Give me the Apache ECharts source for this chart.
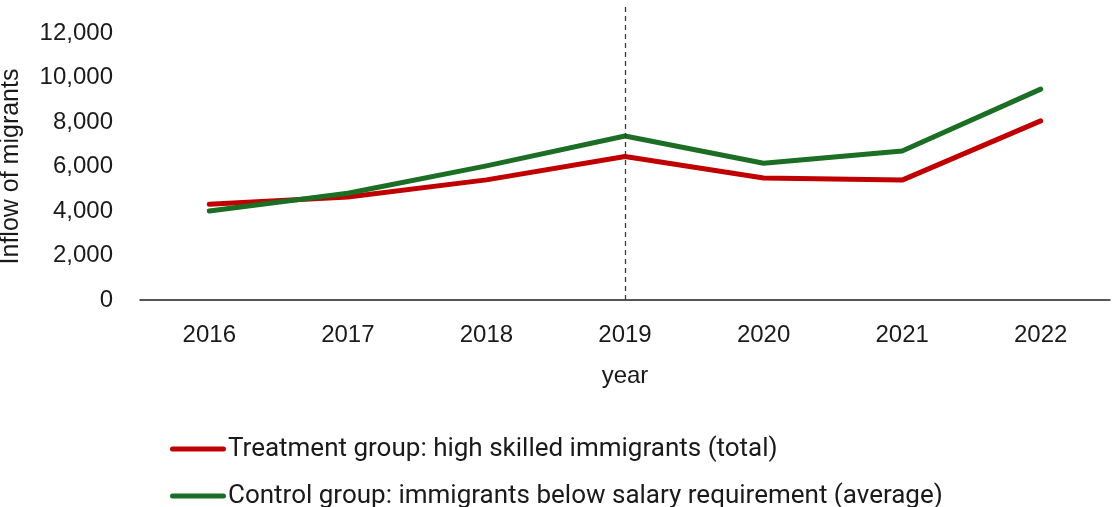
<!DOCTYPE html>
<html>
<head>
<meta charset="utf-8">
<script src="https://cdn.jsdelivr.net/npm/echarts@6/dist/echarts.min.js"></script>
<style>
  html, body { margin: 0; padding: 0; background: #fff; }
  #chart { width: 1113px; height: 507px; }
</style>
</head>
<body>
<div id="chart"></div>
<script>
// Annual inflow of migrants, treatment vs. control group
const years = ['2016', '2017', '2018', '2019', '2020', '2021', '2022'];
const treatment = [4300, 4630, 5400, 6450, 5480, 5390, 8050];
const control = [4000, 4800, 6030, 7370, 6150, 6700, 9480];
const yTicks = [0, 2000, 4000, 6000, 8000, 10000, 12000];
const reformYear = '2019';

const treatmentName = 'Treatment group: high skilled immigrants (total)';
const controlName = 'Control group: immigrants below salary requirement (average)';

const axisFont = 'Liberation Sans, Arial, sans-serif';
const legendFont = 'Roboto, sans-serif';

// thick line with rounded ends used as legend key
const keyIcon = 'path://M2.5,0 H53.5 A2.5,2.5 0 0 1 53.5,5 H2.5 A2.5,2.5 0 0 1 2.5,0 Z';

function legendFor(name, top) {
  return {
    left: 165,
    top: top,
    icon: keyIcon,
    itemWidth: 56,
    itemHeight: 5,
    itemGap: 0,
    textStyle: { fontFamily: legendFont, fontSize: 26, color: '#1a1a1a', padding: [0, 0, 0, -3] },
    data: [name]
  };
}

const chart = echarts.init(document.getElementById('chart'));
const topTick = yTicks[yTicks.length - 1];

chart.setOption({
  animation: false,
  grid: { left: 140, right: 3, top: 3, bottom: 207, outerBoundsMode: 'none', containLabel: false },
  legend: [legendFor(treatmentName, 431), legendFor(controlName, 478)],
  xAxis: {
    type: 'category',
    data: years,
    boundaryGap: true,
    name: 'year',
    nameLocation: 'middle',
    nameGap: 64,
    nameTextStyle: { fontFamily: axisFont, fontSize: 24, color: '#1a1a1a' },
    axisLine: { lineStyle: { color: '#1f1f1f', width: 1.5 } },
    axisTick: { show: false },
    axisLabel: { fontFamily: axisFont, fontSize: 24, color: '#1a1a1a', margin: 23 }
  },
  yAxis: {
    type: 'value',
    min: 0,
    max: 13350,
    interval: 2000,
    name: 'Inflow of migrants',
    nameLocation: 'middle',
    nameGap: 116,
    nameTextStyle: { fontFamily: axisFont, fontSize: 25, color: '#1a1a1a', padding: [0, 30, 0, 0] },
    axisLine: { show: false },
    axisTick: { show: false },
    splitLine: { show: false },
    axisLabel: {
      fontFamily: axisFont, fontSize: 24, color: '#1a1a1a', margin: 27,
      formatter: v => (v > topTick ? '' : v.toLocaleString('en-US'))
    }
  },
  series: [
    {
      name: treatmentName,
      type: 'line',
      data: treatment,
      symbol: 'none',
      lineStyle: { color: '#C00000', width: 5, cap: 'round', join: 'round' },
      itemStyle: { color: '#C00000' },
      markLine: {
        silent: true,
        symbol: 'none',
        label: { show: false },
        lineStyle: { color: '#3a3a3a', width: 1.3, type: [5, 4] },
        data: [{ xAxis: reformYear }]
      }
    },
    {
      name: controlName,
      type: 'line',
      data: control,
      symbol: 'none',
      lineStyle: { color: '#1B6E23', width: 5, cap: 'round', join: 'round' },
      itemStyle: { color: '#1B6E23' }
    }
  ]
});
</script>
</body>
</html>
